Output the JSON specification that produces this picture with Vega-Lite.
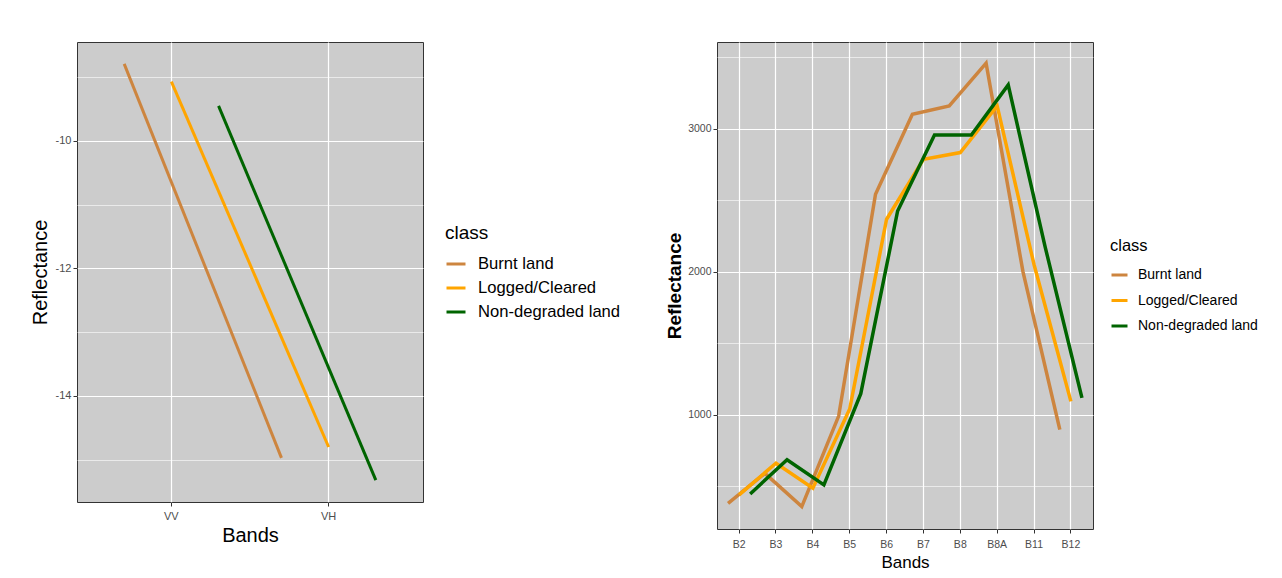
{
  "$schema": "https://vega.github.io/schema/vega-lite/v6.json",
  "background": "white",
  "padding": {"left": 29, "top": 41, "right": 5, "bottom": 5},
  "datasets": {
    "sar": [
      {"band": "VV", "class": "Burnt land", "value": -8.79},
      {"band": "VH", "class": "Burnt land", "value": -14.97},
      {"band": "VV", "class": "Logged/Cleared", "value": -9.07},
      {"band": "VH", "class": "Logged/Cleared", "value": -14.80},
      {"band": "VV", "class": "Non-degraded land", "value": -9.45},
      {"band": "VH", "class": "Non-degraded land", "value": -15.32}
    ],
    "optical": [
      {"band": "B2", "class": "Burnt land", "value": 380},
      {"band": "B3", "class": "Burnt land", "value": 590},
      {"band": "B4", "class": "Burnt land", "value": 358},
      {"band": "B5", "class": "Burnt land", "value": 990},
      {"band": "B6", "class": "Burnt land", "value": 2541},
      {"band": "B7", "class": "Burnt land", "value": 3100},
      {"band": "B8", "class": "Burnt land", "value": 3158},
      {"band": "B8A", "class": "Burnt land", "value": 3457},
      {"band": "B11", "class": "Burnt land", "value": 2000},
      {"band": "B12", "class": "Burnt land", "value": 895},
      {"band": "B2", "class": "Logged/Cleared", "value": 440},
      {"band": "B3", "class": "Logged/Cleared", "value": 661},
      {"band": "B4", "class": "Logged/Cleared", "value": 486},
      {"band": "B5", "class": "Logged/Cleared", "value": 1040},
      {"band": "B6", "class": "Logged/Cleared", "value": 2366},
      {"band": "B7", "class": "Logged/Cleared", "value": 2785},
      {"band": "B8", "class": "Logged/Cleared", "value": 2832},
      {"band": "B8A", "class": "Logged/Cleared", "value": 3158},
      {"band": "B11", "class": "Logged/Cleared", "value": 2050},
      {"band": "B12", "class": "Logged/Cleared", "value": 1093},
      {"band": "B2", "class": "Non-degraded land", "value": 446},
      {"band": "B3", "class": "Non-degraded land", "value": 685},
      {"band": "B4", "class": "Non-degraded land", "value": 509},
      {"band": "B5", "class": "Non-degraded land", "value": 1147},
      {"band": "B6", "class": "Non-degraded land", "value": 2424},
      {"band": "B7", "class": "Non-degraded land", "value": 2955},
      {"band": "B8", "class": "Non-degraded land", "value": 2955},
      {"band": "B8A", "class": "Non-degraded land", "value": 3305},
      {"band": "B11", "class": "Non-degraded land", "value": 2175},
      {"band": "B12", "class": "Non-degraded land", "value": 1117}
    ]
  },
  "hconcat": [
    {
      "width": 346,
      "height": 460,
      "data": {"name": "sar"},
      "mark": {"type": "line", "strokeWidth": 3, "strokeCap": "butt"},
      "encoding": {
        "x": {
          "field": "band", "type": "nominal", "sort": ["VV", "VH"],
          "scale": {"type": "band", "paddingInner": 0, "paddingOuter": 0.1},
          "axis": {"title": "Bands", "titleFontSize": 20, "labelFontSize": 11, "labelAngle": 0, "grid": true, "bandPosition": 0.5, "gridWidth": 1.2, "labelPadding": 4, "titlePadding": 4}
        },
        "xOffset": {
          "field": "class", "type": "nominal",
          "scale": {"type": "point", "padding": 0.6667}
        },
        "y": {
          "field": "value", "type": "quantitative",
          "scale": {"domain": [-15.663, -8.447], "nice": false, "zero": false},
          "axis": {
            "title": "Reflectance", "titleFontSize": 20, "labelFontSize": 11,
            "values": [-15, -14, -13, -12, -11, -10, -9],
            "labelExpr": "datum.value % 2 === 0 ? toString(datum.value) : ''",
            "gridWidth": {"condition": {"test": "datum.value % 2 === 0", "value": 1.2}, "value": 0.6},
            "tickOpacity": {"condition": {"test": "datum.value % 2 === 0", "value": 1}, "value": 0},
            "titlePadding": 5
          }
        },
        "color": {
          "field": "class", "type": "nominal",
          "scale": {"domain": ["Burnt land", "Logged/Cleared", "Non-degraded land"], "range": ["#CD853F", "#FFA500", "#006400"]},
          "legend": {"title": "class", "offset": 22, "rowPadding": 4, "symbolSize": 361, "labelOffset": 11, "labelFontSize": 16.6, "titleFontSize": 19, "titlePadding": 10}
        },
        "order": {"value": null}
      }
    },
    {
      "width": 376,
      "height": 487,
      "data": {"name": "optical"},
      "mark": {"type": "line", "strokeWidth": 3.5, "strokeCap": "butt"},
      "encoding": {
        "x": {
          "field": "band", "type": "nominal",
          "sort": ["B2", "B3", "B4", "B5", "B6", "B7", "B8", "B8A", "B11", "B12"],
          "scale": {"type": "band", "paddingInner": 0, "paddingOuter": 0.1},
          "axis": {"title": "Bands", "titleFontSize": 17, "labelAngle": 0, "grid": true, "bandPosition": 0.5, "gridWidth": 1.2, "labelPadding": 6, "titlePadding": 5}
        },
        "xOffset": {
          "field": "class", "type": "nominal",
          "scale": {"type": "point", "padding": 0.6667}
        },
        "y": {
          "field": "value", "type": "quantitative",
          "scale": {"domain": [201, 3605], "nice": false, "zero": false},
          "axis": {
            "title": "Reflectance", "titleFontSize": 19, "titleFontWeight": "bold",
            "values": [500, 1000, 1500, 2000, 2500, 3000, 3500],
            "labelExpr": "datum.value % 1000 === 0 ? toString(datum.value) : ''",
            "gridWidth": {"condition": {"test": "datum.value % 1000 === 0", "value": 1.2}, "value": 0.6},
            "tickOpacity": {"condition": {"test": "datum.value % 1000 === 0", "value": 1}, "value": 0},
            "titlePadding": 3
          }
        },
        "color": {
          "field": "class", "type": "nominal",
          "scale": {"domain": ["Burnt land", "Logged/Cleared", "Non-degraded land"], "range": ["#CD853F", "#FFA500", "#006400"]},
          "legend": {"title": "class", "offset": 17, "rowPadding": 8.5, "symbolSize": 256, "labelOffset": 9, "labelFontSize": 14, "titleFontSize": 16.5, "titlePadding": 11}
        },
        "order": {"value": null}
      }
    }
  ],
  "spacing": 43,
  "resolve": {"scale": {"x": "independent", "y": "independent", "xOffset": "independent"}, "legend": {"color": "independent"}},
  "config": {
    "font": "Liberation Sans",
    "view": {"fill": "#CCCCCC", "stroke": "#333333", "strokeWidth": 1},
    "axis": {
      "gridColor": "#FFFFFF",
      "domain": false,
      "tickColor": "#333333",
      "tickSize": 4,
      "labelColor": "#4D4D4D",
      "labelFontSize": 10.5,
      "titleFontWeight": "normal",
      "titleColor": "#000000"
    },
    "legend": {
      "titleFontWeight": "normal",
      "titleColor": "#000000",
      "labelColor": "#000000",
      "symbolType": "stroke",
      "symbolStrokeWidth": 3,
      "layout": {"right": {"anchor": "middle"}}
    }
  }
}
